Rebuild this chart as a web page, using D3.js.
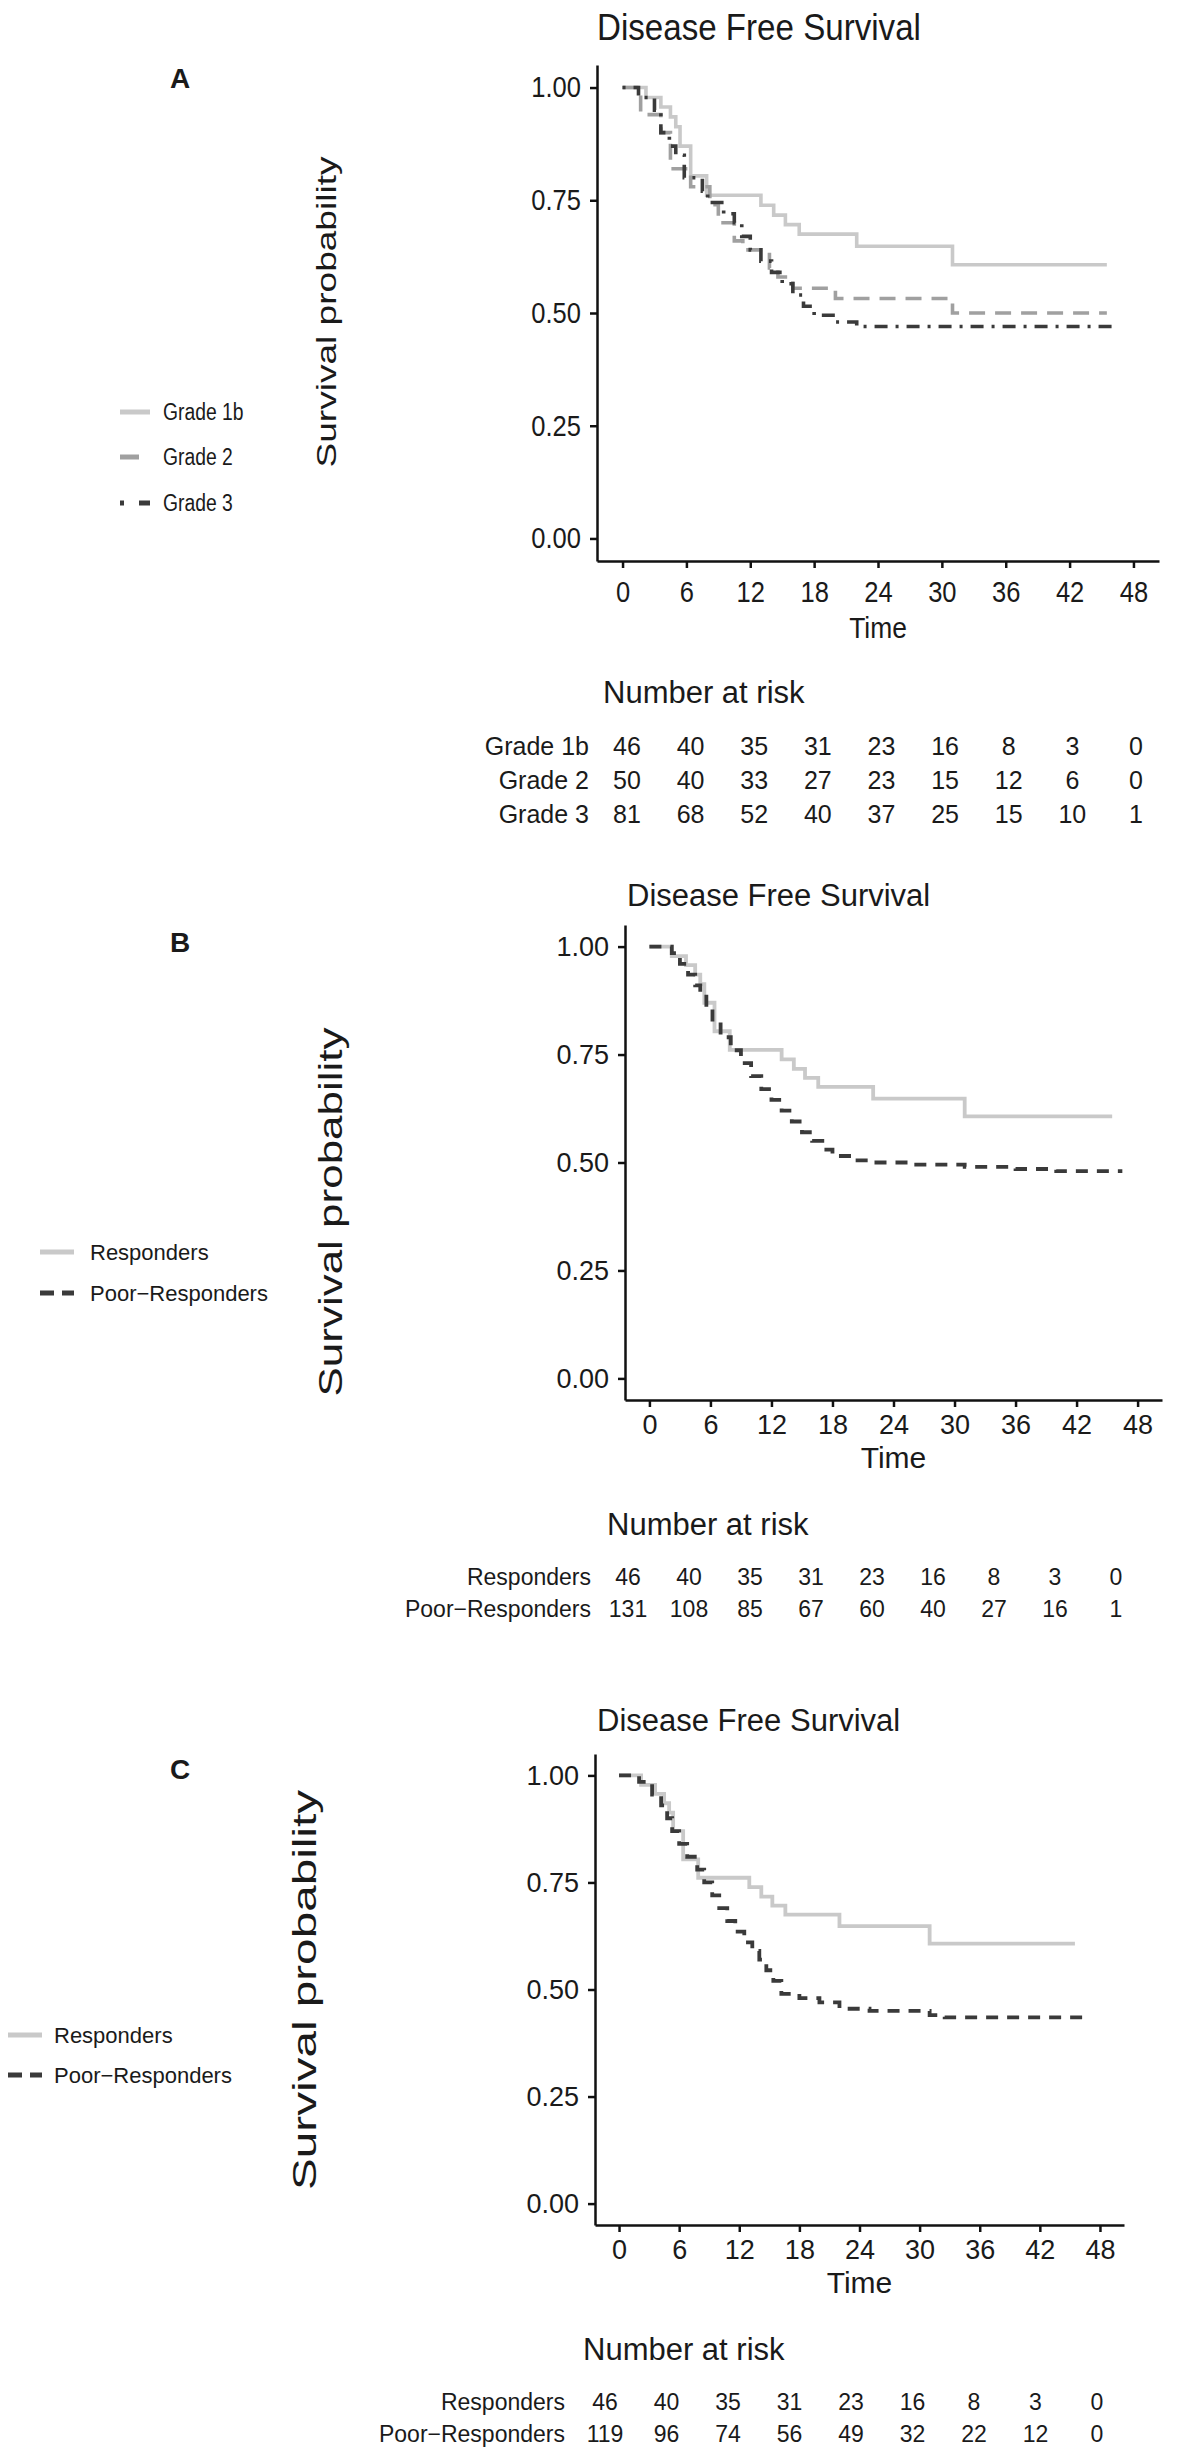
<!DOCTYPE html>
<html>
<head>
<meta charset="utf-8">
<script src="https://cdn.jsdelivr.net/npm/d3@7"></script>
<style>
  body { margin: 0; background: #fff; }
  svg { display: block; }
  text { font-family: "Liberation Sans", Arial, Helvetica, sans-serif; fill: #1a1a1a; }
</style>
</head>
<body>
<div id="root"></div>
<script>
// ---- data ----
const timeTicks = [0, 6, 12, 18, 24, 30, 36, 42, 48];
const survTicks = [0, 0.25, 0.5, 0.75, 1];

// Kaplan-Meier steps (time in months, survival probability)
const respTime = [0, 2.2, 3.6, 4.5, 5.0, 5.4, 6.4, 7.9, 13.0, 14.2, 15.3, 16.6, 22.0, 31.0, 45.5];
const respSurv = [1, 0.978, 0.957, 0.935, 0.913, 0.870, 0.804, 0.761, 0.739, 0.717, 0.696, 0.675, 0.648, 0.607, 0.607];

const grade2Time = [0, 1.7, 3.6, 4.5, 6.4, 8.2, 9.0, 10.5, 11.3, 13.8, 14.6, 16.0, 20.0, 31.0, 45.5];
const grade2Surv = [1, 0.94, 0.90, 0.82, 0.78, 0.74, 0.70, 0.66, 0.64, 0.60, 0.58, 0.555, 0.532, 0.50, 0.50];

const grade3Time = [0, 1.5, 3.0, 3.6, 4.4, 5.0, 5.8, 7.5, 8.0, 9.5, 10.5, 11.2, 12.0, 13.0, 14.0, 15.0, 16.0, 17.0, 18.0, 20.0, 22.0, 46.5];
const grade3Surv = [1, 0.978, 0.95, 0.90, 0.87, 0.85, 0.80, 0.77, 0.745, 0.72, 0.70, 0.67, 0.64, 0.615, 0.59, 0.565, 0.54, 0.515, 0.495, 0.48, 0.47, 0.47];

const poorBTime = [0, 2.2, 3.0, 3.8, 4.5, 5.0, 5.6, 6.2, 7.0, 8.0, 9.0, 10.0, 11.0, 12.0, 13.0, 14.0, 15.0, 16.0, 17.0, 18.0, 20.0, 22.0, 26.0, 31.0, 36.0, 40.0, 46.5];
const poorBSurv = [1, 0.985, 0.96, 0.935, 0.91, 0.89, 0.86, 0.82, 0.79, 0.76, 0.73, 0.70, 0.67, 0.645, 0.62, 0.595, 0.57, 0.55, 0.53, 0.515, 0.505, 0.50, 0.495, 0.49, 0.485, 0.48, 0.48];

const poorCTime = [0, 2.0, 3.3, 4.2, 4.8, 5.3, 6.0, 6.8, 7.8, 8.5, 9.3, 10.0, 10.8, 11.6, 12.5, 13.3, 14.0, 14.7, 15.4, 16.2, 18.0, 20.0, 22.0, 25.0, 31.0, 32.5, 46.5];
const poorCSurv = [1, 0.985, 0.955, 0.93, 0.90, 0.87, 0.84, 0.81, 0.78, 0.75, 0.72, 0.69, 0.66, 0.635, 0.61, 0.59, 0.57, 0.545, 0.52, 0.49, 0.48, 0.47, 0.455, 0.45, 0.44, 0.435, 0.435];

// number at risk
const riskGrade1b = [46, 40, 35, 31, 23, 16, 8, 3, 0];
const riskGrade2  = [50, 40, 33, 27, 23, 15, 12, 6, 0];
const riskGrade3  = [81, 68, 52, 40, 37, 25, 15, 10, 1];
const riskRespB   = [46, 40, 35, 31, 23, 16, 8, 3, 0];
const riskPoorB   = [131, 108, 85, 67, 60, 40, 27, 16, 1];
const riskRespC   = [46, 40, 35, 31, 23, 16, 8, 3, 0];
const riskPoorC   = [119, 96, 74, 56, 49, 32, 22, 12, 0];

// ---- styles ----
const LIGHT = "#c9c9c9", MID = "#a0a0a0", DARK = "#3a3a3a";

var svg = d3.select("#root")
  .append("svg")
  .attr("width", 1182)
  .attr("height", 2461);

// squeeze a text horizontally by sx, keeping its anchor
function squeeze(sel, sx) {
  if (!sx || sx === 1) return sel;
  sel.each(function () {
    var w = this.getComputedTextLength();
    d3.select(this)
      .attr("textLength", w * sx)
      .attr("lengthAdjust", "spacingAndGlyphs");
  });
  return sel;
}

function label(g, x, y, str, fs, anchor, sx, weight) {
  var t = g.append("text")
    .attr("x", x)
    .attr("y", y)
    .attr("text-anchor", anchor || "start")
    .attr("font-size", fs)
    .attr("font-weight", weight || "normal")
    .text(str);
  return squeeze(t, sx);
}

function panel(p) {
  var g = svg.append("g");

  // ggplot style expanded scales
  var x = d3.scaleLinear().domain([-2.4, 50.4]).range([p.axisLeft, p.axisRight]);
  var y = d3.scaleLinear().domain([-0.05, 1.05]).range([p.axisBottom, p.axisTop]);

  var line = d3.line()
    .x(function (d) { return x(d[0]); })
    .y(function (d) { return y(d[1]); })
    .curve(d3.curveStepAfter);

  p.series.forEach(function (s) {
    g.append("path")
      .datum(d3.zip(s.time, s.surv))
      .attr("d", line)
      .attr("fill", "none")
      .attr("stroke", s.color)
      .attr("stroke-width", p.lw)
      .attr("stroke-dasharray", s.dash);
  });

  // X axis
  var xa = g.append("g")
    .attr("transform", "translate(0," + p.axisBottom + ")")
    .call(d3.axisBottom(x).tickValues(timeTicks).tickSize(7).tickSizeOuter(0).tickPadding(p.xPad));
  // Y axis
  var ya = g.append("g")
    .attr("transform", "translate(" + p.axisLeft + ",0)")
    .call(d3.axisLeft(y).tickValues(survTicks).tickFormat(d3.format(".2f")).tickSize(7).tickSizeOuter(0).tickPadding(9));

  [xa, ya].forEach(function (a) {
    a.selectAll("path, line").attr("stroke", "#111").attr("stroke-width", 2.5);
    a.selectAll("text")
      .attr("font-size", p.tickFs)
      .attr("font-family", "Liberation Sans, Arial, sans-serif")
      .attr("fill", "#1a1a1a");
    squeeze(a.selectAll("text"), p.sx);
  });

  // titles and labels
  label(g, p.title[0], p.title[1], "Disease Free Survival", p.title[2], "start", p.title[3]);
  label(g, (p.axisLeft + p.axisRight) / 2, p.timeY, "Time", 30, "middle", p.sx);
  label(g, p.letter[0], p.letter[1], p.letter[2], 28, "middle", 1, "bold");

  g.append("text")
    .attr("transform", "translate(" + p.ylab[0] + "," + p.ylab[1] + ") rotate(-90)")
    .attr("text-anchor", "middle")
    .attr("dy", "0.35em")
    .attr("font-size", p.ylab[3])
    .attr("textLength", p.ylab[2])
    .attr("lengthAdjust", "spacingAndGlyphs")
    .text("Survival probability");

  // legend
  p.series.forEach(function (s, i) {
    var ly = p.legend.ys[i];
    g.append("line")
      .attr("x1", p.legend.x1).attr("x2", p.legend.x2)
      .attr("y1", ly).attr("y2", ly)
      .attr("stroke", s.color)
      .attr("stroke-width", 5)
      .attr("stroke-dasharray", s.legendDash);
    label(g, p.legend.tx, ly + 8, s.name, p.legend.fs, "start", p.legend.sx);
  });

  // number at risk table
  var r = p.risk;
  var rx = d3.scaleLinear().domain([0, 48]).range([r.x0, r.x48]);
  label(g, r.titleX, r.titleY, "Number at risk", 31, "start", 1);
  p.series.forEach(function (s, i) {
    var ry = r.rowYs[i];
    label(g, r.labelX, ry, s.name, r.fs, "end", 1);
    g.append("g").selectAll("text")
      .data(d3.zip(timeTicks, s.risk))
      .enter()
      .append("text")
        .attr("x", function (d) { return rx(d[0]); })
        .attr("y", ry)
        .attr("text-anchor", "middle")
        .attr("font-size", r.fs)
        .text(function (d) { return d[1]; });
  });
}

// Panel A
panel({
  axisLeft: 597, axisRight: 1159, axisTop: 65, axisBottom: 561,
  lw: 3.6, sx: 0.88, tickFs: 29, xPad: 13, timeY: 638,
  title: [597, 40, 36, 0.92], letter: [180, 88, "A"],
  ylab: [327, 312, 311, 27],
  legend: { x1: 120, x2: 150, tx: 163, ys: [412, 457, 503], fs: 23, sx: 0.84 },
  risk: { titleX: 603, titleY: 703, labelX: 589, rowYs: [755, 789, 823], fs: 25, x0: 627, x48: 1136 },
  series: [
    { name: "Grade 1b", time: respTime, surv: respSurv, risk: riskGrade1b, color: LIGHT, dash: null, legendDash: null },
    { name: "Grade 2", time: grade2Time, surv: grade2Surv, risk: riskGrade2, color: MID, dash: "16,10", legendDash: "19,40" },
    { name: "Grade 3", time: grade3Time, surv: grade3Surv, risk: riskGrade3, color: DARK, dash: "3,8,13,8", legendDash: "4,15,11,30" }
  ]
});

// Panel B
panel({
  axisLeft: 625, axisRight: 1162, axisTop: 925, axisBottom: 1400,
  lw: 3.8, sx: 1, tickFs: 27, xPad: 8, timeY: 1468,
  title: [627, 906, 31, 1], letter: [180, 952, "B"],
  ylab: [330, 1212, 369, 34],
  legend: { x1: 40, x2: 74, tx: 90, ys: [1252, 1293], fs: 22, sx: 1 },
  risk: { titleX: 607, titleY: 1535, labelX: 591, rowYs: [1585, 1617], fs: 23, x0: 628, x48: 1116 },
  series: [
    { name: "Responders", time: respTime, surv: respSurv, risk: riskRespB, color: LIGHT, dash: null, legendDash: null },
    { name: "Poor\u2212Responders", time: poorBTime, surv: poorBSurv, risk: riskPoorB, color: DARK, dash: "12,9", legendDash: "14,8" }
  ]
});

// Panel C
panel({
  axisLeft: 595, axisRight: 1124, axisTop: 1754, axisBottom: 2225,
  lw: 3.8, sx: 1, tickFs: 27, xPad: 8, timeY: 2293,
  title: [597, 1731, 31, 1], letter: [180, 1779, "C"],
  ylab: [304, 1990, 400, 34],
  legend: { x1: 8, x2: 42, tx: 54, ys: [2035, 2075], fs: 22, sx: 1 },
  risk: { titleX: 583, titleY: 2360, labelX: 565, rowYs: [2410, 2442], fs: 23, x0: 605, x48: 1097 },
  series: [
    { name: "Responders", time: respTime, surv: respSurv, risk: riskRespC, color: LIGHT, dash: null, legendDash: null },
    { name: "Poor\u2212Responders", time: poorCTime, surv: poorCSurv, risk: riskPoorC, color: DARK, dash: "12,9", legendDash: "14,8" }
  ]
});
</script>
</body>
</html>
